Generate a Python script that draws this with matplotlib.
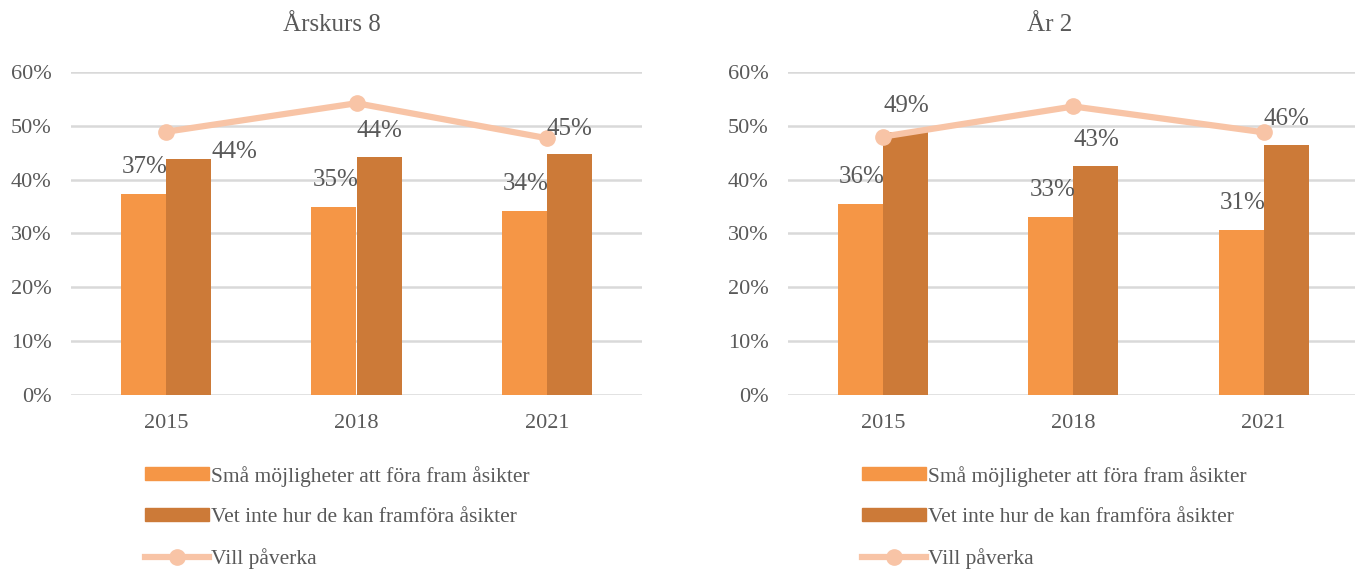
import matplotlib.pyplot as plt
from matplotlib.lines import Line2D
from matplotlib.patches import Patch

plt.rcParams['font.family'] = ['Liberation Serif', 'DejaVu Serif']

years = ['2015', '2018', '2021']
series_names = ['Små möjligheter att föra fram åsikter',
                'Vet inte hur de kan framföra åsikter',
                'Vill påverka']

# Årskurs 8
ak8_sma = [37.4, 34.9, 34.2]
ak8_vet = [43.9, 44.2, 44.7]
ak8_vill = [48.9, 54.2, 47.7]

# År 2
ar2_sma = [35.5, 33.1, 30.6]
ar2_vet = [48.8, 42.6, 46.4]
ar2_vill = [48.0, 53.6, 48.8]

c_light = '#F59646'
c_dark = '#CC7A38'
c_line = '#F8C4A6'
c_text = '#595959'
c_grid = '#D9D9D9'

fig = plt.figure(figsize=(13.55, 5.71), dpi=100)
W, H = 1355, 571


def px_axes(x0, x1, y0, y1):
    return fig.add_axes([x0 / W, 1 - y1 / H, (x1 - x0) / W, (y1 - y0) / H])


def draw_panel(ax, sma, vet, vill, nudge=None):
    x = range(len(years))
    bw = 0.237
    ax.bar([i - bw / 2 for i in x], sma, bw, color=c_light, zorder=2)
    ax.bar([i + bw / 2 for i in x], vet, bw, color=c_dark, zorder=2)
    ax.plot(list(x), vill, color=c_line, lw=4.5, marker='o', ms=11,
            zorder=3, solid_capstyle='round')
    for i in x:
        ax.text(i + 0.01, sma[i] + 5, f'{round(sma[i])}%', ha='right', va='center',
                fontsize=18, color=c_text, zorder=4)
        dx, dy = 0, 4.8
        if nudge and i in nudge:
            dx, dy = nudge[i]
        ax.text(i + dx, vet[i] + dy, f'{round(vet[i])}%', ha='left', va='center',
                fontsize=18, color=c_text, zorder=4)
    ax.set_xlim(-0.5, 2.5)
    ax.set_ylim(0, 60)
    ax.set_yticks(range(0, 61, 10))
    ax.set_yticklabels([f'{v}%' for v in range(0, 61, 10)])
    ax.set_xticks(list(x))
    ax.set_xticklabels(years)
    ax.tick_params(length=0, labelsize=16, labelcolor=c_text)
    ax.tick_params(axis='y', pad=14)
    ax.tick_params(axis='x', pad=14)
    ax.grid(axis='y', color=c_grid, lw=1.8, zorder=0)
    ax.set_axisbelow(True)
    for s in ax.spines.values():
        s.set_visible(False)


ax1 = px_axes(71, 642, 72, 395)
draw_panel(ax1, ak8_sma, ak8_vet, ak8_vill, nudge={0: (0.24, 1.3)})
ax2 = px_axes(788, 1355, 72, 395)
draw_panel(ax2, ar2_sma, ar2_vet, ar2_vill)
ax2.set_xlim(-0.5, 2.48)

fig.text(332 / W, 1 - 25 / H, 'Årskurs 8', ha='center', va='center',
         fontsize=18, color=c_text)
fig.text(1050 / W, 1 - 25 / H, 'År 2', ha='center', va='center',
         fontsize=18, color=c_text)

handles = [Patch(color=c_light), Patch(color=c_dark),
           Line2D([], [], color=c_line, lw=4.5, marker='o', ms=11)]
for lx in (136, 853):
    fig.legend(handles, series_names, loc='upper left',
               bbox_to_anchor=(lx / W, 1 - 457 / H), frameon=False,
               fontsize=15.5, labelcolor=c_text, handlelength=3.0,
               handleheight=0.55, handletextpad=0.1, labelspacing=0.98,
               borderaxespad=0)

fig.savefig('out.png', dpi=100)
